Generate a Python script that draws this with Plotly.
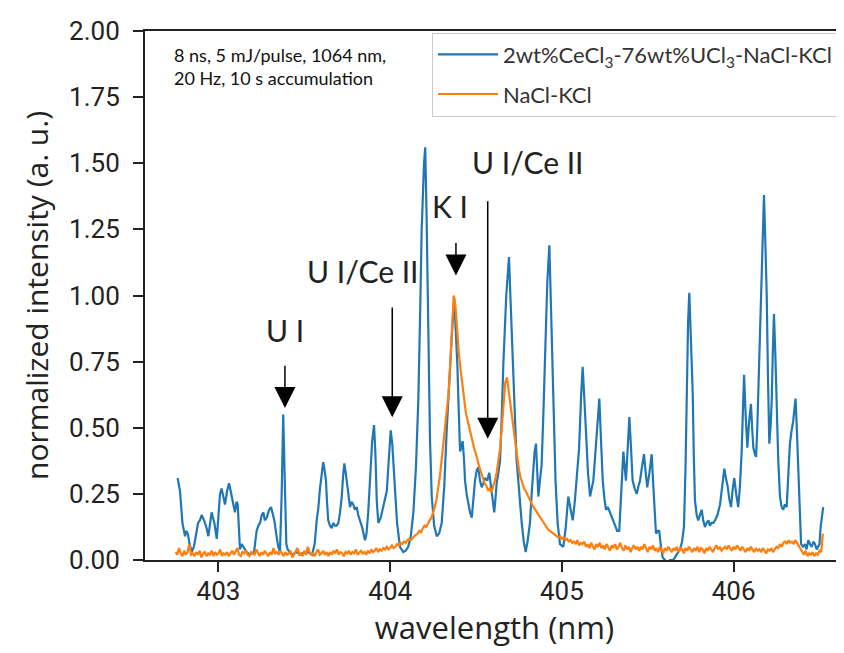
import numpy as np
import plotly.graph_objects as go

# ---------------- data ----------------
blue_wl = [402.762, 402.770, 402.776, 402.790, 402.805, 402.812, 402.821, 402.832, 402.844, 402.857,
           402.870, 402.881, 402.892, 402.902, 402.916, 402.931, 402.941, 402.950, 402.960, 402.968,
           402.976, 402.990, 403.000, 403.009, 403.018, 403.028, 403.038, 403.050, 403.061, 403.068,
           403.077, 403.087, 403.096, 403.105, 403.112, 403.119, 403.125, 403.135, 403.144, 403.164,
           403.183, 403.207, 403.222, 403.232, 403.242, 403.252, 403.261, 403.270, 403.281, 403.295,
           403.306, 403.316, 403.325, 403.336, 403.348, 403.358, 403.368, 403.377, 403.386, 403.395,
           403.403, 403.428, 403.455, 403.475, 403.500, 403.521, 403.545, 403.560, 403.572, 403.582,
           403.591, 403.600, 403.610, 403.618, 403.626, 403.632, 403.639, 403.649, 403.659, 403.668,
           403.678, 403.688, 403.698, 403.708, 403.718, 403.726, 403.733, 403.743, 403.753, 403.760,
           403.766, 403.775, 403.785, 403.795, 403.805, 403.814, 403.824, 403.838, 403.853, 403.862,
           403.872, 403.884, 403.895, 403.906, 403.914, 403.922, 403.931, 403.945, 403.960, 403.970,
           403.980, 403.990, 404.003, 404.012, 404.020, 404.028, 404.040, 404.057, 404.076, 404.090,
           404.105, 404.120, 404.135, 404.150, 404.164, 404.175, 404.183, 404.197, 404.204, 404.212,
           404.222, 404.232, 404.242, 404.256, 404.271, 404.285, 404.300, 404.315, 404.329, 404.344,
           404.358, 404.373, 404.382, 404.391, 404.400, 404.407, 404.415, 404.422, 404.430, 404.436,
           404.445, 404.455, 404.465, 404.475, 404.485, 404.494, 404.504, 404.513, 404.523, 404.533,
           404.542, 404.552, 404.565, 404.577, 404.585, 404.591, 404.598, 404.606, 404.613, 404.620,
           404.630, 404.640, 404.650, 404.659, 404.676, 404.684, 404.692, 404.700, 404.708, 404.717,
           404.727, 404.736, 404.746, 404.756, 404.766, 404.778, 404.789, 404.800, 404.814, 404.824,
           404.833, 404.841, 404.849, 404.856, 404.863, 404.872, 404.882, 404.892, 404.902, 404.915,
           404.927, 404.937, 404.945, 404.955, 404.963, 404.975, 404.989, 405.008, 405.022, 405.037,
           405.050, 405.063, 405.075, 405.086, 405.100, 405.112, 405.121, 405.130, 405.140, 405.152,
           405.164, 405.174, 405.183, 405.190, 405.199, 405.208, 405.218, 405.228, 405.238, 405.248,
           405.257, 405.268, 405.280, 405.295, 405.309, 405.322, 405.334, 405.346, 405.358, 405.366,
           405.373, 405.383, 405.393, 405.402, 405.412, 405.424, 405.436, 405.446, 405.455, 405.466,
           405.478, 405.488, 405.497, 405.510, 405.523, 405.535, 405.548, 405.558, 405.567, 405.577,
           405.587, 405.600, 405.610, 405.630, 405.649, 405.668, 405.688, 405.700, 405.711, 405.720,
           405.727, 405.735, 405.742, 405.750, 405.762, 405.768, 405.775, 405.785, 405.794, 405.804,
           405.814, 405.823, 405.833, 405.843, 405.853, 405.862, 405.872, 405.882, 405.892, 405.906,
           405.921, 405.934, 405.946, 405.955, 405.965, 405.975, 405.985, 405.995, 406.004, 406.015,
           406.027, 406.037, 406.047, 406.055, 406.061, 406.070, 406.080, 406.090, 406.101, 406.108,
           406.115, 406.124, 406.131, 406.138, 406.144, 406.154, 406.164, 406.171, 406.177, 406.185,
           406.193, 406.200, 406.208, 406.215, 406.222, 406.229, 406.235, 406.243, 406.251, 406.260,
           406.270, 406.280, 406.289, 406.299, 406.309, 406.318, 406.328, 406.338, 406.347, 406.354,
           406.361, 406.368, 406.376, 406.385, 406.393, 406.405, 406.416, 406.425, 406.435, 406.445,
           406.455, 406.465, 406.474, 406.484, 406.493, 406.500, 406.507, 406.515, 406.522]

blue_val = [0.31, 0.28, 0.26, 0.14, 0.09, 0.11, 0.10, 0.06, 0.03, 0.05,
            0.10, 0.14, 0.15, 0.17, 0.15, 0.12, 0.09, 0.14, 0.18, 0.16,
            0.14, 0.08, 0.16, 0.25, 0.27, 0.24, 0.21, 0.26, 0.29, 0.27,
            0.24, 0.20, 0.18, 0.22, 0.21, 0.12, 0.04, 0.06, 0.05, 0.03,
            0.02, 0.03, 0.11, 0.13, 0.14, 0.17, 0.18, 0.15, 0.16, 0.19,
            0.20, 0.17, 0.15, 0.10, 0.05, 0.03, 0.25, 0.55, 0.28, 0.06,
            0.04, 0.02, 0.03, 0.02, 0.03, 0.03, 0.02, 0.06, 0.15, 0.20,
            0.27, 0.33, 0.37, 0.34, 0.30, 0.22, 0.15, 0.13, 0.12, 0.14,
            0.13, 0.13, 0.14, 0.18, 0.24, 0.32, 0.365, 0.32, 0.26, 0.23,
            0.20, 0.22, 0.21, 0.19, 0.20, 0.17, 0.15, 0.12, 0.075, 0.10,
            0.18, 0.30, 0.45, 0.51, 0.40, 0.22, 0.14, 0.16, 0.20, 0.23,
            0.26, 0.36, 0.49, 0.44, 0.34, 0.26, 0.14, 0.05, 0.03, 0.035,
            0.05, 0.09, 0.18, 0.35, 0.61, 0.95, 1.24, 1.50, 1.56, 1.30,
            0.86, 0.45, 0.24, 0.13, 0.09, 0.10, 0.14, 0.28, 0.49, 0.70,
            0.84, 0.99, 0.88, 0.74, 0.55, 0.41, 0.43, 0.45, 0.38, 0.30,
            0.25, 0.21, 0.18, 0.16, 0.24, 0.30, 0.34, 0.35, 0.30, 0.275,
            0.29, 0.31, 0.30, 0.33, 0.29, 0.26, 0.21, 0.18, 0.23, 0.29,
            0.33, 0.375, 0.55, 0.74, 1.00, 1.10, 1.145, 1.00, 0.86, 0.65,
            0.49, 0.38, 0.30, 0.21, 0.14, 0.07, 0.03, 0.07, 0.14, 0.25,
            0.36, 0.41, 0.44, 0.33, 0.24, 0.30, 0.36, 0.55, 0.80, 1.05,
            1.19, 0.95, 0.70, 0.45, 0.30, 0.14, 0.06, 0.05, 0.12, 0.24,
            0.19, 0.15, 0.22, 0.30, 0.42, 0.62, 0.73, 0.62, 0.50, 0.33,
            0.24, 0.27, 0.30, 0.36, 0.45, 0.52, 0.61, 0.45, 0.30, 0.23,
            0.19, 0.20, 0.18, 0.15, 0.125, 0.11, 0.11, 0.25, 0.41, 0.35,
            0.30, 0.42, 0.54, 0.43, 0.30, 0.27, 0.25, 0.28, 0.30, 0.35,
            0.40, 0.33, 0.275, 0.33, 0.40, 0.25, 0.10, 0.11, 0.11, 0.05,
            0.01, 0.00, -0.01, 0.00, 0.00, 0.02, 0.04, 0.07, 0.125, 0.35,
            0.63, 0.90, 1.01, 0.88, 0.63, 0.40, 0.225, 0.17, 0.15, 0.17,
            0.19, 0.15, 0.125, 0.14, 0.15, 0.13, 0.14, 0.14, 0.15, 0.17,
            0.21, 0.28, 0.345, 0.31, 0.28, 0.23, 0.20, 0.27, 0.31, 0.25,
            0.20, 0.28, 0.41, 0.58, 0.70, 0.55, 0.425, 0.52, 0.59, 0.50,
            0.425, 0.40, 0.39, 0.50, 0.65, 0.90, 1.125, 1.30, 1.38, 1.20,
            1.00, 0.70, 0.44, 0.50, 0.60, 0.80, 0.93, 0.78, 0.56, 0.38,
            0.24, 0.20, 0.19, 0.21, 0.20, 0.30, 0.44, 0.49, 0.525, 0.57,
            0.61, 0.50, 0.375, 0.20, 0.06, 0.05, 0.06, 0.04, 0.075, 0.06,
            0.05, 0.07, 0.06, 0.04, 0.05, 0.06, 0.125, 0.16, 0.20]

orange_start = 402.75
orange_step = 0.01
orange_val = [
    0.03, 0.02, 0.045, 0.025, 0.015, 0.035, 0.02, 0.03, 0.06, 0.02,
    0.025, 0.015, 0.03, 0.02, 0.035, 0.01, 0.025, 0.03, 0.015, 0.025,
    0.02, 0.035, 0.015, 0.03, 0.02, 0.025, 0.04, 0.015, 0.025, 0.02,
    0.03, 0.015, 0.025, 0.035, 0.02, 0.03, 0.045, 0.02, 0.015, 0.03,
    0.025, 0.035, 0.02, 0.015, 0.03, 0.025, 0.02, 0.04, 0.025, 0.015,
    0.03, 0.02, 0.035, 0.025, 0.015, 0.03, 0.02, 0.045, 0.025, 0.03,
    0.02, 0.035, 0.025, 0.015, 0.03, 0.02, 0.025, 0.035, 0.01, 0.02,
    0.03, 0.045, 0.02, 0.025, 0.015, 0.035, 0.02, 0.05, 0.03, 0.02,
    0.025, 0.015, 0.03, 0.04, 0.02, 0.025, 0.035, 0.02, 0.03, 0.015,
    0.03, 0.02, 0.035, 0.025, 0.04, 0.02, 0.03, 0.025, 0.015, 0.03,
    0.025, 0.035, 0.02, 0.03, 0.025, 0.04, 0.02, 0.03, 0.035, 0.025,
    0.03, 0.02, 0.035, 0.025, 0.04, 0.03, 0.035, 0.045, 0.03, 0.04,
    0.035, 0.045, 0.04, 0.05, 0.04, 0.045, 0.055, 0.045, 0.05, 0.06,
    0.055, 0.065, 0.06, 0.07, 0.065, 0.075, 0.08, 0.075, 0.085, 0.09,
    0.095, 0.10, 0.11, 0.105, 0.12, 0.13, 0.125, 0.14, 0.15, 0.16,
    0.18, 0.20, 0.23, 0.27, 0.32, 0.38, 0.44, 0.50, 0.56, 0.63,
    0.74, 0.88, 1.00, 0.96, 0.86, 0.78, 0.72, 0.66, 0.60, 0.56,
    0.53, 0.50, 0.47, 0.45, 0.42, 0.40, 0.37, 0.35, 0.33, 0.31,
    0.29, 0.28, 0.265, 0.27, 0.255, 0.28, 0.30, 0.33, 0.37, 0.42,
    0.50, 0.60, 0.67, 0.69, 0.64, 0.57, 0.52, 0.47, 0.42, 0.38,
    0.34, 0.31, 0.29, 0.27, 0.26, 0.245, 0.23, 0.22, 0.205, 0.195,
    0.185, 0.17, 0.16, 0.15, 0.14, 0.13, 0.125, 0.115, 0.11, 0.105,
    0.10, 0.095, 0.09, 0.085, 0.09, 0.08, 0.085, 0.075, 0.08, 0.07,
    0.075, 0.065, 0.07, 0.06, 0.075, 0.055, 0.065, 0.06, 0.07, 0.05,
    0.06, 0.045, 0.065, 0.055, 0.04, 0.06, 0.05, 0.065, 0.045, 0.055,
    0.04, 0.06, 0.05, 0.035, 0.055, 0.045, 0.06, 0.04, 0.05, 0.065,
    0.045, 0.035, 0.055, 0.04, 0.05, 0.03, 0.045, 0.055, 0.04, 0.05,
    0.035, 0.05, 0.04, 0.06, 0.045, 0.03, 0.05, 0.04, 0.055, 0.035,
    0.045, 0.03, 0.05, 0.04, 0.025, 0.045, 0.035, 0.05, 0.04, 0.03,
    0.045, 0.035, 0.05, 0.03, 0.045, 0.04, 0.025, 0.045, 0.035, 0.05,
    0.04, 0.03, 0.045, 0.035, 0.05, 0.03, 0.045, 0.04, 0.025, 0.045,
    0.035, 0.05, 0.04, 0.03, 0.045, 0.055, 0.04, 0.05, 0.035, 0.045,
    0.05, 0.04, 0.055, 0.045, 0.035, 0.05, 0.04, 0.055, 0.045, 0.035,
    0.05, 0.04, 0.03, 0.045, 0.035, 0.05, 0.04, 0.03, 0.045, 0.035,
    0.04, 0.03, 0.045, 0.035, 0.025, 0.04, 0.035, 0.045, 0.03, 0.04,
    0.05, 0.045, 0.06, 0.05, 0.065, 0.07, 0.06, 0.075, 0.065, 0.07,
    0.06, 0.075, 0.065, 0.05, 0.045, 0.03, 0.02, 0.035, 0.015, 0.025,
    0.02, 0.03, 0.015, 0.025, 0.02, 0.035, 0.03, 0.10]
orange_wl = np.round(orange_start + orange_step * np.arange(len(orange_val)), 3)

# peak labels and arrows
label_text = ["U I", "U I/Ce II", "K I", "U I/Ce II"]
label_x = [403.388, 403.842, 404.348, 404.80]
label_y = [0.868, 1.094, 1.338, 1.504]
arrow_x = [403.387, 404.012, 404.383, 404.568]
arrow_tail = [0.74, 0.96, 1.204, 1.362]
arrow_tip = [0.575, 0.54, 1.076, 0.458]

x_ticks = [403, 404, 405, 406]
y_ticks = [0, 0.25, 0.5, 0.75, 1.0, 1.25, 1.5, 1.75, 2.0]

blue_name = "2wt%CeCl<sub>3</sub>-76wt%UCl<sub>3</sub>-NaCl-KCl"
orange_name = "NaCl-KCl"
cond_text = "8 ns, 5 mJ/pulse, 1064 nm,<br>20 Hz, 10 s accumulation"

# ---------------- figure ----------------
fig = go.Figure()
fig.add_trace(go.Scatter(x=blue_wl, y=blue_val, mode="lines", name=blue_name, legendgroup="a",
                         line=dict(color="#1f77b4", width=2.2)))
fig.add_trace(go.Scatter(x=orange_wl, y=orange_val, mode="lines", name=orange_name, legendgroup="b",
                         line=dict(color="#ff7f0e", width=2.2)))

tick_font = dict(family="Roboto, sans-serif", size=26, color="#222")
title_font = dict(family="Open Sans, sans-serif", size=30, color="#222")
fig.update_layout(
    width=844, height=653,
    margin=dict(l=137, r=8, t=16, b=101),
    plot_bgcolor="white", paper_bgcolor="white",
    showlegend=True,
    legend=dict(x=0.4106, y=0.997, xanchor="left", yanchor="top",
                bgcolor="white", bordercolor="#cccccc", borderwidth=1,
                font=dict(family="Lato, sans-serif", size=22, color="#333"),
                tracegroupgap=8, itemwidth=60),
    xaxis=dict(range=[402.572, 406.643], tickvals=x_ticks, ticks="outside", ticklen=10,
               tickwidth=1.5, tickcolor="#222", showline=True, linecolor="#222", linewidth=2,
               mirror=True, showgrid=False, zeroline=False, tickfont=tick_font,
               ticklabelstandoff=-3,
               title=dict(text="wavelength (nm)", font=dict(family="Open Sans, sans-serif", size=31, color="#222"),
                          standoff=10)),
    yaxis=dict(range=[0, 2.0], tickvals=y_ticks, tickformat=".2f", ticks="outside", ticklen=10,
               tickwidth=1.5, tickcolor="#222", showline=True, linecolor="#222", linewidth=2,
               showgrid=False, zeroline=False, tickfont=tick_font, ticklabelstandoff=8,
               title=dict(text="normalized intensity (a. u.)", font=title_font, standoff=12)),
)

for t, tx, ty in zip(label_text, label_x, label_y):
    fig.add_annotation(x=tx, y=ty, xref="x", yref="y", text=t, showarrow=False,
                       font=dict(family="Lato, sans-serif", size=30, color="#222"))

for ax_, tail, tip in zip(arrow_x, arrow_tail, arrow_tip):
    fig.add_annotation(x=ax_, y=tip, ax=ax_, ay=tail, xref="x", yref="y", axref="x", ayref="y",
                       text="", showarrow=True, arrowhead=2, arrowsize=2.8, arrowwidth=1.5,
                       arrowcolor="black", standoff=0, startstandoff=0)

fig.add_annotation(x=0.0386, y=0.9795, xref="paper", yref="paper", xanchor="left", yanchor="top",
                   text=cond_text, showarrow=False, align="left",
                   font=dict(family="Lato, sans-serif", size=18, color="#111"))

fig.write_html("out.html")
